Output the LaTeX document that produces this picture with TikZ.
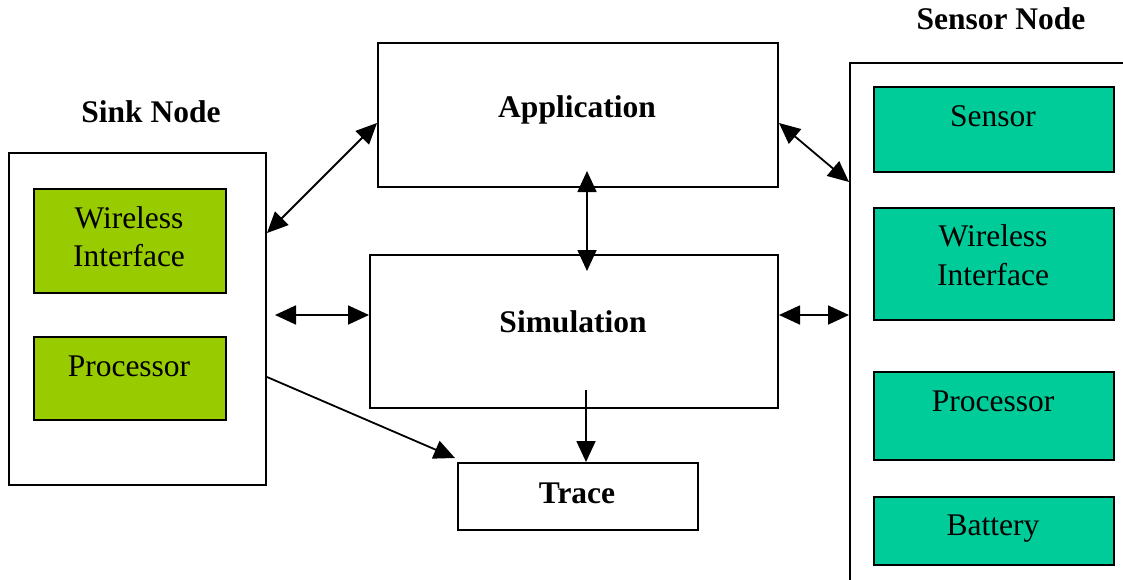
\documentclass[tikz,border=0pt]{standalone}
\usepackage{fontspec}
\setmainfont{Liberation Serif}
\usetikzlibrary{arrows.meta,calc}
\definecolor{sinkgreen}{HTML}{99CC00}
\definecolor{sensgreen}{HTML}{00CC99}
\begin{document}
\begin{tikzpicture}[x=1pt,y=-1pt,
  box/.style={draw, line width=2pt, inner sep=0pt, anchor=north west},
  lbl/.style={font=\fontsize{31.5}{37}\selectfont, anchor=base, inner sep=0pt},
  blbl/.style={lbl, font=\fontsize{31.5}{37}\selectfont\bfseries},
  tip/.tip={Triangle[length=21pt,width=19pt]},
  arr/.style={line width=1.8pt, -tip},
  darr/.style={line width=1.8pt, tip-tip}]
\clip (0,0) rectangle (1123,580);
% sink node
\node[blbl] (sinklbl) at (151,123) {Sink Node};
\node[box, minimum width=257pt, minimum height=332pt] (sinkbox) at (8,152) {};
\node[box, fill=sinkgreen, minimum width=192pt, minimum height=104pt] (swi) at (33,188) {};
\node[lbl] (swit1) at (129,228) {Wireless};
\node[lbl] (swit2) at (129,266) {Interface};
\node[box, fill=sinkgreen, minimum width=192pt, minimum height=83pt] (sproc) at (33,336) {};
\node[lbl] (sproct) at (129,376) {Processor};
% central
\node[box, minimum width=400pt, minimum height=144pt] (app) at (377,42) {};
\node[blbl] (appt) at (577,118) {Application};
\node[box, minimum width=408pt, minimum height=153pt] (sim) at (369,254) {};
\node[blbl] (simt) at (573,332) {Simulation};
\node[box, minimum width=240pt, minimum height=67pt] (trace) at (457,462) {};
\node[blbl] (tracet) at (577,503) {Trace};
% sensor node
\node[blbl] (senslbl) at (1001,30) {Sensor Node};
\node[box, minimum width=320pt, minimum height=560pt] (sensorbox) at (849,62) {};
\node[box, fill=sensgreen, minimum width=240pt, minimum height=85pt] (ssens) at (873,86) {};
\node[lbl] (ssenst) at (993,127) {Sensor};
\node[box, fill=sensgreen, minimum width=240pt, minimum height=112pt] (swi2) at (873,207) {};
\node[lbl] (swi2t1) at (993,246) {Wireless};
\node[lbl] (swi2t2) at (993,285) {Interface};
\node[box, fill=sensgreen, minimum width=240pt, minimum height=88pt] (sproc2) at (873,371) {};
\node[lbl] (sproc2t) at (993,411) {Processor};
\node[box, fill=sensgreen, minimum width=240pt, minimum height=68pt] (sbat) at (873,496) {};
\node[lbl] (sbatt) at (993,535) {Battery};
% connectors
\draw[darr] ($(sinkbox.north east)+(0,81)$) -- ($(app.north west)+(0,81)$);
\draw[darr] ($(app.north east)+(0,81)$) -- ($(sensorbox.north west)+(0,120)$);
\draw[darr] ($(app.south)+(9,-17)$) -- ($(sim.north)+(13,17)$);
\draw[darr] ($(sinkbox.north east)+(8,163)$) -- ($(sim.north west)+(0,61)$);
\draw[darr] ($(sim.north east)+(0,61)$) -- ($(sensorbox.north west)+(0,253)$);
\draw[arr] ($(sinkbox.north east)+(0,225)$) -- ($(trace.north west)+(-2,-4)$);
\draw[arr] ($(sim.south)+(12,-19)$) -- ($(trace.north)+(8,0)$);
\end{tikzpicture}
\end{document}
